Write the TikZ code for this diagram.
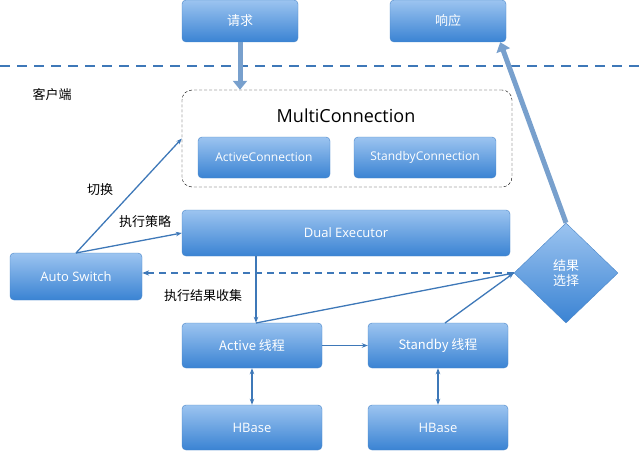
\documentclass[tikz,border=0pt]{standalone}
\usepackage{fontspec}
\setmainfont{Open Sans}
\newfontfamily\cjk{Noto Sans CJK SC}
\usetikzlibrary{shapes.geometric,arrows.meta}
\definecolor{btop}{HTML}{9CC4F0}
\definecolor{bbot}{HTML}{3A83D3}
\definecolor{bdraw}{HTML}{4A86C8}
\definecolor{ln}{HTML}{3E78B8}
\newcommand{\fA}{\fontsize{13}{15}\selectfont}
\newcommand{\fB}{\fontsize{12}{14}\selectfont}
\tikzset{
 box/.style={rectangle,rounded corners=4pt,top color=btop,bottom color=bbot,draw=bdraw,text=white,font=\fA\cjk,minimum height=#1},
 box/.default=45pt,
 conn/.style={draw=ln,line width=1.3pt,-{Stealth[length=6pt]}},
 fat/.style={draw=ln!70,line width=5pt,-{Triangle[length=9pt,width=14pt]}},
 lab/.style={font=\fA\cjk,text=black}
}
\begin{document}
\begin{tikzpicture}[x=1pt,y=-1pt]
\useasboundingbox (0,0) rectangle (640,460);
\node[box=42pt,minimum width=116pt] (req) at (240,21) {请求};
\node[box=42pt,minimum width=116pt] (resp) at (448,21) {响应};
\draw[ln,line width=2.5pt,dash pattern=on 10pt off 7pt] (0,66) -- (640,66);
\node[lab] at (52,95) {客户端};
\node[draw=black,dash pattern=on 3pt off 2pt,rounded corners=10pt,minimum width=330pt,minimum height=97pt] (mc) at (347,138.5) {};
\node[font=\fontsize{18}{20}\selectfont] at (346,116) {MultiConnection};
\node[box=41pt,minimum width=132pt,font=\fB] (ac) at (264,157.5) {ActiveConnection};
\node[box=41pt,minimum width=142pt,font=\fB] (sc) at (425,157.5) {StandbyConnection};
\node[box=46pt,minimum width=328pt,font=\fA] (de) at (346,233) {Dual Executor};
\node[box=47pt,minimum width=132pt,font=\fA] (as) at (76,276.5) {Auto Switch};
\node[diamond,top color=btop,bottom color=bbot,draw=bdraw,text=white,font=\fA\cjk,minimum width=104pt,minimum height=100pt,inner sep=0pt,align=center] (dm) at (566,273) {结果\\选择};
\node[box=45pt,minimum width=140pt] (at) at (252,345.5) {Active 线程};
\node[box=45pt,minimum width=140pt] (st) at (438,345.5) {Standby 线程};
\node[box=45pt,minimum width=140pt,font=\fA] (h1) at (252,427.5) {HBase};
\node[box=45pt,minimum width=140pt,font=\fA] (h2) at (438,427.5) {HBase};
\draw[fat] (req.south) -- (mc.north -| req.south);
\draw[fat] (dm.north) -- ([xshift=-6pt]resp.south east);
\coordinate (ast) at (76,253);
\draw[conn] (ast) -- (mc.west);
\node[lab] at (100,190) {切换};
\draw[conn] (ast) -- (de.west);
\node[lab] at (145,222) {执行策略};
\draw[ln,line width=2pt,dash pattern=on 7pt off 5pt,-{Stealth[length=7pt]}] (dm.west) -- (as.east |- dm.west);
\node[lab] at (203,296) {执行结果收集};
\draw[conn] (de.south -| at.north) ++(4,0) coordinate (d1) -- (d1 |- at.north);
\coordinate (a1) at (256,323);
\draw[conn] (a1) -- (dm.west);
\coordinate (s1) at (445,323);
\draw[conn] (s1) -- (dm.west);
\draw[conn] (at.east) -- (st.west);
\draw[conn,{Stealth[length=6pt]}-{Stealth[length=6pt]}] (at.south) -- (h1.north);
\draw[conn,{Stealth[length=6pt]}-{Stealth[length=6pt]}] (st.south) -- (h2.north);
\end{tikzpicture}
\end{document}
